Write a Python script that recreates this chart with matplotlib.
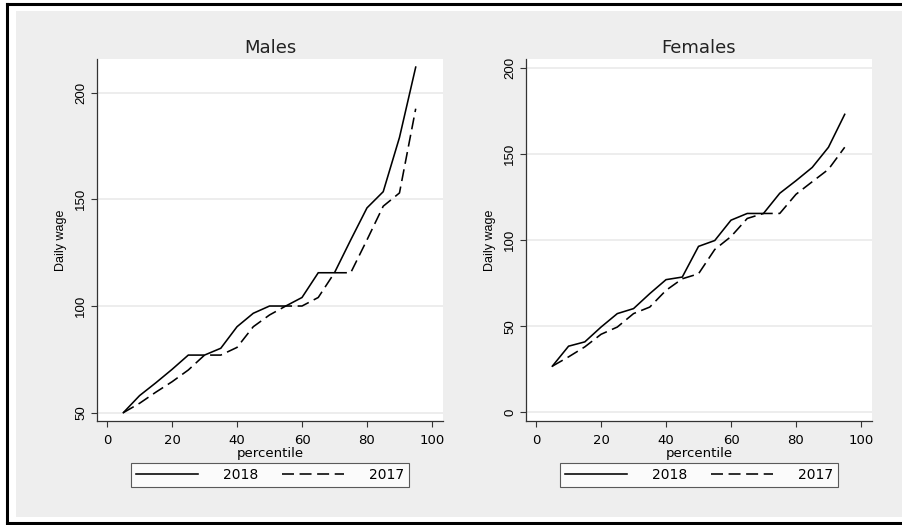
import matplotlib
matplotlib.use("Agg")
import matplotlib.pyplot as plt
from matplotlib.patches import Rectangle
from matplotlib.lines import Line2D

plt.rcParams['font.family'] = ['DejaVu Sans']

# percentiles shown on the x axis
pct = [5, 10, 15, 20, 25, 30, 35, 40, 45, 50, 55, 60, 65, 70, 75, 80, 85, 90, 95]

# daily wage by percentile
males_2018 = [50, 58, 64, 70.3, 77, 77, 80.2, 90.3, 96.6, 100, 100, 104, 115.6, 115.6, 131, 146, 153.6, 179, 212]
males_2017 = [50, 54.4, 59.6, 64.5, 70, 77, 77, 80.6, 90.3, 95.8, 100, 100, 104, 115.6, 115.6, 131, 146.8, 153, 192.5]
females_2018 = [26.8, 38.4, 40.9, 49.5, 57.3, 60.2, 68.9, 77, 78.5, 96.3, 99.7, 111.5, 115.4, 115.4, 127.1, 134.4, 142.1, 153.8, 172.9]
females_2017 = [26.8, 32.2, 38, 45.3, 49.5, 57.3, 61.1, 70.8, 77.5, 80.4, 94.5, 102, 112.5, 115.4, 115.4, 126.5, 133.8, 141, 153.8]

panels = [
    ("Males", males_2018, males_2017, [50, 100, 150, 200], (46.1, 215.8), 97),
    ("Females", females_2018, females_2017, [0, 50, 100, 150, 200], (-5, 205), 526),
]

W, H = 902, 525
fig = plt.figure(figsize=(W / 100, H / 100), dpi=100, facecolor='white')

# grey graph region and the outer frame
fig.add_artist(Rectangle((16 / W, 1 - 517 / H), (W - 16) / W, (517 - 11) / H,
                         transform=fig.transFigure, facecolor='#eeeeee', edgecolor='none', zorder=0))
fig.add_artist(Line2D([7 / W, 7 / W], [1 - 4 / H, 1 - 523 / H], transform=fig.transFigure, color='black', lw=2.2))
fig.add_artist(Line2D([7 / W, 1], [1 - 4 / H, 1 - 4 / H], transform=fig.transFigure, color='black', lw=2.2))
fig.add_artist(Line2D([7 / W, 1], [1 - 523 / H, 1 - 523 / H], transform=fig.transFigure, color='black', lw=2.2))

for title, y18, y17, yt, ylim, x0 in panels:
    ax = fig.add_axes([x0 / W, 1 - 421 / H, 346 / W, 362 / H])
    ax.set_facecolor('white')
    l1, = ax.plot(pct, y18, color='black', lw=1.15, solid_joinstyle='miter')
    l2, = ax.plot(pct, y17, color='black', lw=1.15, dashes=(7.5, 3.5))
    ax.set_xlim(-3.1, 103.4)
    ax.set_ylim(*ylim)
    ax.set_xticks([0, 20, 40, 60, 80, 100])
    ax.set_yticks(yt)
    ax.set_yticklabels([str(v) for v in yt], rotation=90, va='center',
                       family='Liberation Sans', fontsize=9.5)
    ax.yaxis.grid(True, color='#eaeaea', lw=1.2)
    ax.set_axisbelow(True)
    for s in ['top', 'right']:
        ax.spines[s].set_visible(False)
    for s in ['left', 'bottom']:
        ax.spines[s].set_color('#333333')
        ax.spines[s].set_linewidth(0.9)
    ax.tick_params(axis='x', labelsize=9.5, pad=5)
    ax.tick_params(direction='out', length=4, width=0.8, color='#333333')
    ax.tick_params(axis='y', pad=3)
    ax.set_title(title, fontsize=13, color='#222222', pad=4)
    ax.set_xlabel('percentile', fontsize=9.5, labelpad=0)
    ax.set_ylabel('Daily wage', fontsize=9, family='Liberation Sans', labelpad=6)
    leg = ax.legend([l1, l2], ['2018', '2017'], ncol=2, loc='upper center',
                    bbox_to_anchor=(0.5, -0.097), fontsize=10, frameon=True, fancybox=False,
                    handlelength=4.5, columnspacing=1.7, handletextpad=1.8, borderpad=0.35)
    leg.get_frame().set_edgecolor('#333333')
    leg.get_frame().set_linewidth(0.8)

fig.savefig('out.png', dpi=100, facecolor='white')
